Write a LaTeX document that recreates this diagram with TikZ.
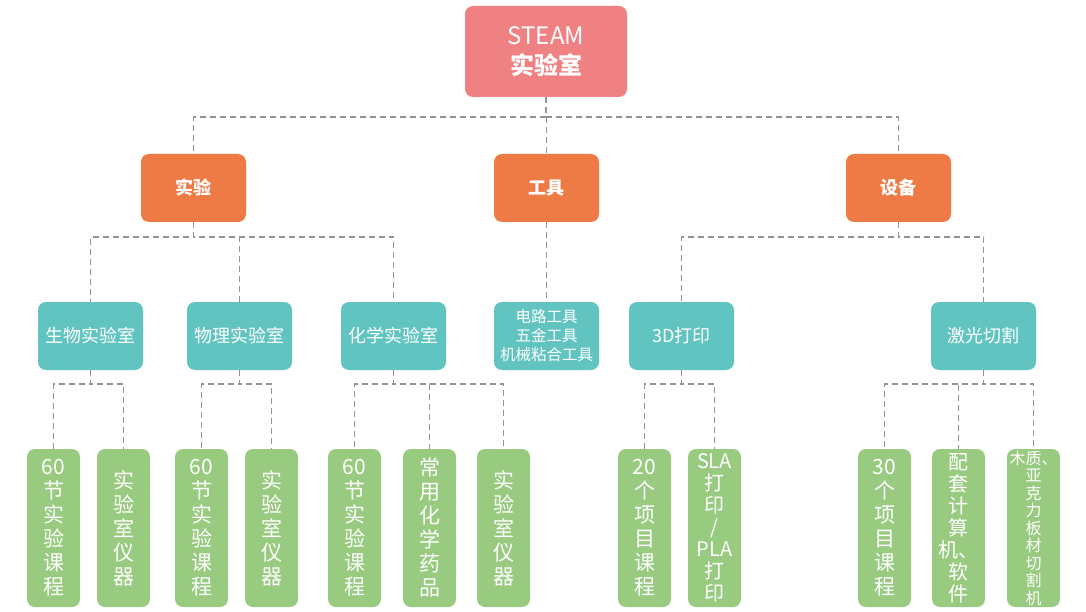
\documentclass[tikz,border=0pt]{standalone}
\usepackage{fontspec}
\setmainfont{Noto Sans CJK SC}
\begin{document}
\begin{tikzpicture}[x=1pt,y=-1pt,
 box/.style={draw=none,rounded corners=8pt,text=white,align=center,inner sep=0pt},
 top/.style={box,fill=steamc,minimum width=162pt,minimum height=91pt,font=\fontsize{24}{30}\selectfont},
 l1/.style={box,fill=orangec,minimum width=105pt,minimum height=68pt,font=\fontsize{18}{22}\selectfont\bfseries},
 l2/.style={box,fill=tealc,minimum width=105pt,minimum height=68pt,font=\fontsize{18}{21}\selectfont},
 leaf/.style={box,fill=greenc,minimum width=53pt,minimum height=158pt,font=\fontsize{21}{24}\selectfont},
 link/.style={draw=gray!85,dash pattern=on 6pt off 4pt,line width=1.5pt}]
\definecolor{steamc}{HTML}{EF8182}
\definecolor{orangec}{HTML}{EE7A45}
\definecolor{tealc}{HTML}{62C4C0}
\definecolor{greenc}{HTML}{98CA80}
\useasboundingbox (0,0) rectangle (1086,612);
\fill[white] (0,0) rectangle (1086,612);
\node[top] (steam) at (546,51.5) {STEAM\\\textbf{实验室}};
\node[l1] (sy) at (193.5,188) {实验};
\node[l1] (gj) at (546.5,188) {工具};
\node[l1] (sb) at (898.5,188) {设备};
\node[l2] (sw) at (90.5,336) {生物实验室};
\node[l2] (wl) at (239.5,336) {物理实验室};
\node[l2] (hx) at (393.5,336) {化学实验室};
\node[l2,font=\fontsize{15.5}{19}\selectfont] (dl) at (546.5,336) {电路工具\\五金工具\\机械粘合工具};
\node[l2] (dp) at (681.5,336) {3D打印};
\node[l2] (jg) at (983.5,336) {激光切割};
\node[leaf] (a1) at (53.5,528) {60\\节\\实\\验\\课\\程};
\node[leaf] (a2) at (123.5,528) {实\\验\\室\\仪\\器};
\node[leaf] (b1) at (201.5,528) {60\\节\\实\\验\\课\\程};
\node[leaf] (b2) at (271.5,528) {实\\验\\室\\仪\\器};
\node[leaf] (c1) at (354.5,528) {60\\节\\实\\验\\课\\程};
\node[leaf] (c2) at (429.5,528) {常\\用\\化\\学\\药\\品};
\node[leaf] (c3) at (503.5,528) {实\\验\\室\\仪\\器};
\node[leaf] (d1) at (644.5,528) {20\\个\\项\\目\\课\\程};
\node[leaf,font=\fontsize{20}{22}\selectfont] (d2) at (714.5,528) {SLA\\打\\印\\/\\PLA\\打\\印};
\node[leaf] (e1) at (884.5,528) {30\\个\\项\\目\\课\\程};
\node[leaf,font=\fontsize{20}{22}\selectfont] (e2) at (958.5,528) {配\\套\\计\\算\\机、\\软\\件};
\node[leaf,font=\fontsize{16}{17.5}\selectfont] (e3) at (1033.5,528) {木质、\\亚\\克\\力\\板\\材\\切\\割\\机};
\foreach \c in {sy,gj,sb} \draw[link] (steam.south) -- ++(0,20) -| (\c.north);
\foreach \c in {sw,wl,hx} \draw[link] (sy.south) -- ++(0,15) -| (\c.north);
\draw[link] (gj.south) -- (dl.north);
\foreach \c in {dp,jg} \draw[link] (sb.south) -- ++(0,15) -| (\c.north);
\foreach \c in {a1,a2} \draw[link] (sw.south) -- ++(0,14) -| (\c.north);
\foreach \c in {b1,b2} \draw[link] (wl.south) -- ++(0,14) -| (\c.north);
\foreach \c in {c1,c2,c3} \draw[link] (hx.south) -- ++(0,14) -| (\c.north);
\foreach \c in {d1,d2} \draw[link] (dp.south) -- ++(0,14) -| (\c.north);
\foreach \c in {e1,e2,e3} \draw[link] (jg.south) -- ++(0,14) -| (\c.north);
\end{tikzpicture}
\end{document}
